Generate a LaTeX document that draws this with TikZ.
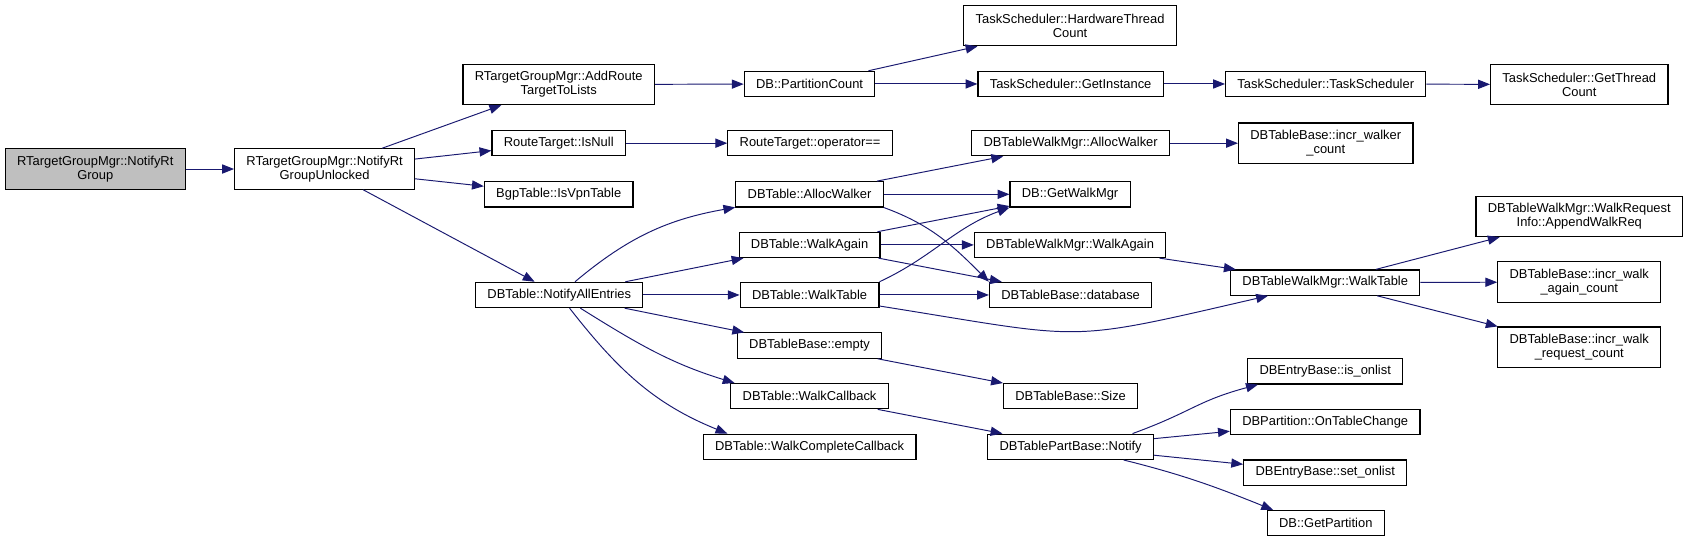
\documentclass[tikz,border=0pt]{standalone}
\usepackage{fontspec}
\setmainfont{Liberation Sans}
\usepackage{tikz}
\usetikzlibrary{arrows.meta}
\definecolor{DGEdge}{RGB}{25,25,112}
\definecolor{DGRoot}{RGB}{191,191,191}

\begin{document}
\begin{tikzpicture}[x=1pt, y=-1pt,
    fn/.style={rectangle, draw=black, line width=1.05pt, fill=white,
               font=\fontsize{12}{13}\selectfont, align=center,
               inner xsep=11pt, inner ysep=5pt, minimum height=23.5pt},
    fn2/.style={fn, minimum height=37.5pt},
    root/.style={fn2, fill=DGRoot},
    call/.style={-{Triangle[length=11pt, width=8.5pt]}, DGEdge, line width=0.9pt}
  ]
  \useasboundingbox (0,0) rectangle (1568,503.5);

  % caller and first callee
  \node[root] (notify) at (88.5,157) {RTargetGroupMgr::NotifyRt\\Group};
  \node[fn2] (unlocked) at (301.5,157) {RTargetGroupMgr::NotifyRt\\GroupUnlocked};

  % rank 1
  \node[fn2] (addroute) at (519,78.5) {RTargetGroupMgr::AddRoute\\TargetToLists};
  \node[fn] (isnull) at (519,133) {RouteTarget::IsNull};
  \node[fn] (isvpn) at (519,180.5) {BgpTable::IsVpnTable};
  \node[fn] (allentries) at (519.5,274) {DBTable::NotifyAllEntries};

  % rank 2
  \node[fn] (partcnt) at (752,78) {DB::PartitionCount};
  \node[fn] (opeq) at (752.5,133) {RouteTarget::operator==};
  \node[fn] (tallocw) at (752,180.5) {DBTable::AllocWalker};
  \node[fn] (twalkagain) at (752,227.5) {DBTable::WalkAgain};
  \node[fn] (twalktable) at (752,274) {DBTable::WalkTable};
  \node[fn] (tempty) at (752,321) {DBTableBase::empty};
  \node[fn] (twalkcb) at (752,368) {DBTable::WalkCallback};
  \node[fn] (twalkcc) at (752,415) {DBTable::WalkCompleteCallback};

  % rank 3
  \node[fn2] (hwcount) at (994,23.75) {TaskScheduler::HardwareThread\\Count};
  \node[fn] (getinst) at (994.5,78) {TaskScheduler::GetInstance};
  \node[fn] (wmalloc) at (994.5,133) {DBTableWalkMgr::AllocWalker};
  \node[fn] (getwalkmgr) at (994,180.5) {DB::GetWalkMgr};
  \node[fn] (wmwalkagain) at (994,227.5) {DBTableWalkMgr::WalkAgain};
  \node[fn] (database) at (994.5,274) {DBTableBase::database};
  \node[fn] (bsize) at (994.5,368) {DBTableBase::Size};
  \node[fn] (ptnotify) at (994.5,415) {DBTablePartBase::Notify};

  % rank 4
  \node[fn] (tsched) at (1231.5,78) {TaskScheduler::TaskScheduler};
  \node[fn2] (walkercnt) at (1231.5,133) {DBTableBase::incr\_walker\\\_count};
  \node[fn] (wmwalktable) at (1231,262.5) {DBTableWalkMgr::WalkTable};
  \node[fn] (isonlist) at (1231,345) {DBEntryBase::is\_onlist};
  \node[fn] (ontblchg) at (1231,392) {DBPartition::OnTableChange};
  \node[fn] (setonlist) at (1231,439) {DBEntryBase::set\_onlist};
  \node[fn] (getpart) at (1231.5,486) {DB::GetPartition};

  % rank 5
  \node[fn2] (threadcnt) at (1467,78.5) {TaskScheduler::GetThread\\Count};
  \node[fn2] (appendreq) at (1467,201) {DBTableWalkMgr::WalkRequest\\Info::AppendWalkReq};
  \node[fn2] (againcnt) at (1467,262) {DBTableBase::incr\_walk\\\_again\_count};
  \node[fn2] (reqcnt) at (1467,322.5) {DBTableBase::incr\_walk\\\_request\_count};

  % straight calls
  \foreach \a/\b in {notify/unlocked, unlocked/addroute, unlocked/isnull,
      unlocked/isvpn, unlocked/allentries, addroute/partcnt, partcnt/hwcount,
      partcnt/getinst, getinst/tsched, tsched/threadcnt, isnull/opeq,
      allentries/twalkagain, allentries/twalktable, allentries/tempty,
      tallocw/wmalloc, tallocw/getwalkmgr, twalkagain/getwalkmgr,
      twalkagain/wmwalkagain, twalkagain/database, twalktable/database,
      wmalloc/walkercnt, wmwalkagain/wmwalktable, wmwalktable/appendreq,
      wmwalktable/againcnt, wmwalktable/reqcnt, tempty/bsize,
      twalkcb/ptnotify, ptnotify/ontblchg, ptnotify/setonlist}
    \draw[call] (\a) -- (\b);

  % curved calls
  \draw[call] (allentries) to[out=40, in=190] (tallocw);
  \draw[call] (allentries) to[out=-32, in=163] ([xshift=4pt]twalkcb.north west);
  \draw[call] (allentries) to[out=-52, in=158] ([xshift=23pt]twalkcc.north west);
  \draw[call] (tallocw.south east) to[out=-20, in=135] (database.north west);
  \draw[call] (twalktable.north east) to[out=25, in=-160] (getwalkmgr.south west);
  \draw[call] (twalktable) to[out=-9, in=-167, looseness=1.4] (wmwalktable);
  \draw[call] ([xshift=-20pt]ptnotify.north east) to[out=20, in=-165, looseness=1.2] ([xshift=10pt]isonlist.south west);
  \draw[call] (ptnotify) to[out=-14, in=158] ([xshift=6pt]getpart.north west);
\end{tikzpicture}
\end{document}
